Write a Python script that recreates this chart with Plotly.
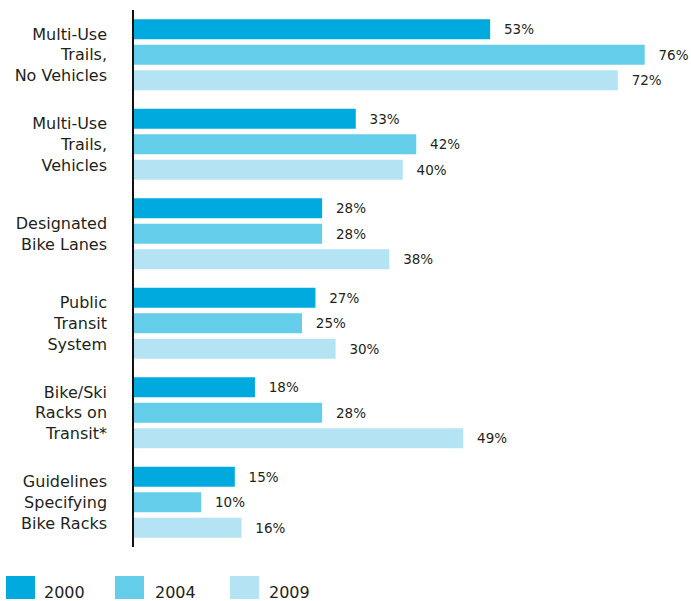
import plotly.graph_objects as go

categories = [
    "Multi-Use<br>Trails,<br>No Vehicles",
    "Multi-Use<br>Trails,<br>Vehicles",
    "Designated<br>Bike Lanes",
    "Public<br>Transit<br>System",
    "Bike/Ski<br>Racks on<br>Transit*",
    "Guidelines<br>Specifying<br>Bike Racks",
]
years = ["2000", "2004", "2009"]
vals_2000 = [53, 33, 28, 27, 18, 15]
vals_2004 = [76, 42, 28, 25, 28, 10]
vals_2009 = [72, 40, 38, 30, 49, 16]
colors = ["#00aadf", "#64cdea", "#b4e4f3"]

FONT = "DejaVu Sans"
TXT = "#231f20"

L, T, B = 134, 10, 54
FW, FH = 691, 601
W = FW - L

fig = go.Figure()
for name, vals, col in zip(years, [vals_2000, vals_2004, vals_2009], colors):
    fig.add_trace(go.Bar(
        y=categories, x=vals, orientation="h", name=name,
        marker=dict(color=col, line=dict(width=0)),
        text=[f"\u2002\u2009\u200a{v}%" for v in vals],
        textposition="outside", cliponaxis=False, constraintext="none",
        textfont=dict(family=FONT, size=13.5, color=TXT),
        showlegend=False,
    ))

# legend drawn as boxes + labels under the plot
legend_boxes = [(-128, -99), (-19, 10), (96, 125)]
legend_text_x = [-92, 19, 133]
for (x0, x1), tx, col, name in zip(legend_boxes, legend_text_x, colors, years):
    fig.add_shape(type="rect", xref="paper", yref="paper",
                  xsizemode="pixel", ysizemode="pixel", xanchor=0, yanchor=0,
                  x0=x0, x1=x1, y0=-52, y1=-29,
                  fillcolor=col, line=dict(width=0))
    fig.add_annotation(text=name, xref="paper", yref="paper",
                       x=tx / W, y=0, yshift=-45,
                       xanchor="left", yanchor="middle", showarrow=False,
                       font=dict(family=FONT, size=16, color=TXT))

fig.update_layout(
    width=FW, height=FH,
    margin=dict(l=L, r=0, t=T, b=B),
    barmode="group", bargap=0.146, bargroupgap=0.216,
    plot_bgcolor="white", paper_bgcolor="white",
    font=dict(family=FONT, size=15, color=TXT),
    xaxis=dict(range=[0, W / 6.72], visible=False),
    yaxis=dict(autorange="reversed", showline=True, linecolor="#111111",
               linewidth=1.5, ticks="", ticklabelstandoff=22, automargin=False,
               tickfont=dict(family=FONT, size=16, color=TXT)),
)

# drop the default body margin so the figure fills the window exactly
fig.write_html("out.html", config={"displayModeBar": False},
               post_script="document.body.style.margin = '0';")
